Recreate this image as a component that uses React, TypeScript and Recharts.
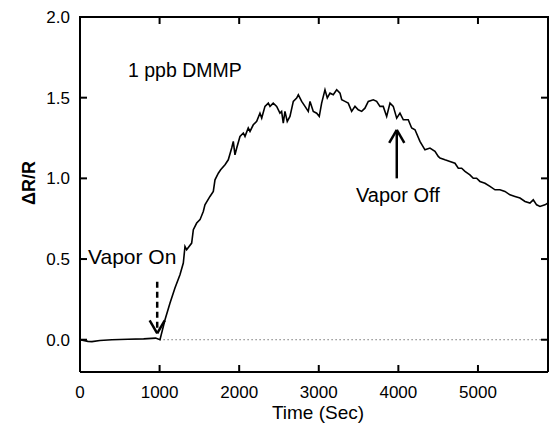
import { LineChart, Line, XAxis, YAxis, ReferenceLine } from 'recharts'

// time (s) and ΔR/R
const times = [
  0, 100, 150, 250, 400, 600, 800, 950, 1005, 1068, 1131, 1193, 1256, 1298, 1319, 1340, 1403, 1424,
  1466, 1508, 1549, 1570, 1633, 1675, 1696, 1738, 1767, 1822, 1863, 1906, 1926, 1947, 1969, 2010,
  2052, 2073, 2114, 2136, 2177, 2220, 2261, 2283, 2324, 2366, 2387, 2428, 2471, 2512, 2533, 2554,
  2575, 2604, 2638, 2680, 2722, 2743, 2785, 2827, 2868, 2890, 2931, 2974, 3006, 3036, 3078, 3107,
  3141, 3182, 3225, 3267, 3288, 3329, 3370, 3413, 3455, 3496, 3539, 3580, 3622, 3685, 3727, 3769,
  3810, 3853, 3895, 3936, 3979, 4020, 4062, 4124, 4167, 4209, 4271, 4334, 4397, 4460, 4501, 4523,
  4585, 4648, 4711, 4753, 4795, 4837, 4899, 4941, 4983, 5025, 5088, 5151, 5214, 5276, 5339, 5402,
  5465, 5528, 5591, 5653, 5695, 5737, 5779, 5842, 5880,
]
const response = [
  0.0, -0.01, -0.012, -0.005, 0.0, 0.003, 0.005, 0.01, 0.0, 0.124, 0.227, 0.32, 0.403, 0.475, 0.578,
  0.558, 0.599, 0.682, 0.723, 0.744, 0.795, 0.836, 0.888, 0.919, 0.991, 1.032, 1.053, 1.084, 1.115,
  1.188, 1.229, 1.146, 1.188, 1.26, 1.281, 1.26, 1.312, 1.291, 1.332, 1.353, 1.404, 1.374, 1.446,
  1.466, 1.446, 1.466, 1.446, 1.404, 1.415, 1.342, 1.415, 1.353, 1.384, 1.477, 1.498, 1.518, 1.477,
  1.446, 1.415, 1.477, 1.415, 1.404, 1.384, 1.466, 1.549, 1.498, 1.528, 1.518, 1.549, 1.528, 1.487,
  1.477, 1.466, 1.415, 1.446, 1.425, 1.415, 1.435, 1.477, 1.487, 1.477, 1.446, 1.446, 1.384, 1.466,
  1.446, 1.373, 1.404, 1.363, 1.363, 1.312, 1.301, 1.229, 1.177, 1.188, 1.167, 1.136, 1.126, 1.115,
  1.105, 1.094, 1.063, 1.063, 1.043, 1.022, 1.001, 1.001, 0.981, 0.97, 0.95, 0.929, 0.929, 0.919,
  0.898, 0.888, 0.878, 0.857, 0.847, 0.867, 0.836, 0.826, 0.836, 0.847,
]
const xTicks = [0, 1000, 2000, 3000, 4000, 5000]
const yTicks = [0, 0.5, 1, 1.5, 2]

const data = times.map((t, i) => ({ t, v: response[i] }))

const FONT = 'Liberation Sans, Arial, Helvetica, sans-serif'
const X_MAX = 5880
const Y_MIN = -0.2
const Y_MAX = 2

// plot box in pixels (follows from chart size / margins / axis sizes below)
const W = 549
const H = 423
const LEFT = 80
const TOP = 17
const RIGHT = W - 1
const BOTTOM = H - 51
const TICK = 7
const LW = 2

// same linear mapping as the axes (domain -> plot box), for the frame tick marks
const px = (t: number) => LEFT + (t / X_MAX) * (RIGHT - LEFT)
const py = (v: number) => BOTTOM - ((v - Y_MIN) / (Y_MAX - Y_MIN)) * (BOTTOM - TOP)

// annotation arrows, in data units
const onArrow = { t: 970, from: 0.36, to: 0.04 }
const offArrow = { t: 3980, from: 1.0, to: 1.3 }
const headW = 95
const headH = 0.08

// frame (top/right) and inward ticks, laid over the chart
function Frame() {
  return (
    <svg
      width={W}
      height={H}
      style={{ position: 'absolute', left: 0, top: 0, pointerEvents: 'none' }}
    >
      <line x1={LEFT - 1} y1={TOP} x2={RIGHT + 1} y2={TOP} stroke="#000" strokeWidth={LW} />
      <line x1={RIGHT} y1={TOP} x2={RIGHT} y2={BOTTOM} stroke="#000" strokeWidth={LW} />
      {xTicks.filter((t) => t > 0).map((t) => (
        <g key={`x${t}`}>
          <line x1={px(t)} y1={BOTTOM} x2={px(t)} y2={BOTTOM - TICK} stroke="#000" strokeWidth={LW} />
          <line x1={px(t)} y1={TOP} x2={px(t)} y2={TOP + TICK} stroke="#000" strokeWidth={LW} />
        </g>
      ))}
      {yTicks.map((v) => (
        <g key={`y${v}`}>
          <line x1={LEFT} y1={py(v)} x2={LEFT + TICK} y2={py(v)} stroke="#000" strokeWidth={LW} />
          <line x1={RIGHT} y1={py(v)} x2={RIGHT - TICK} y2={py(v)} stroke="#000" strokeWidth={LW} />
        </g>
      ))}
    </svg>
  )
}

export default function App() {
  const tickStyle = { fontSize: 17, fill: '#000', fontFamily: FONT }
  return (
    <div style={{ position: 'absolute', left: 0, top: 0, width: W, height: H }}>
      <LineChart width={W} height={H} data={data} margin={{ top: TOP, right: W - RIGHT, bottom: 0, left: 0 }}>
        <XAxis
          dataKey="t"
          type="number"
          domain={[0, X_MAX]}
          ticks={xTicks}
          height={H - BOTTOM}
          axisLine={{ stroke: '#000', strokeWidth: LW }}
          tickLine={false}
          tickSize={0}
          tickMargin={14}
          tick={tickStyle}
        />
        <YAxis
          type="number"
          domain={[Y_MIN, Y_MAX]}
          ticks={yTicks}
          width={LEFT}
          axisLine={{ stroke: '#000', strokeWidth: LW }}
          tickLine={false}
          tickSize={0}
          tickMargin={10}
          tick={tickStyle}
          tickFormatter={(v) => v.toFixed(1)}
        />
        <ReferenceLine
          segment={[{ x: 1000, y: 0 }, { x: X_MAX, y: 0 }]}
          stroke="#333"
          strokeWidth={1}
          strokeDasharray="1 3"
        />
        {/* Vapor On: dashed arrow pointing down */}
        <ReferenceLine
          segment={[{ x: onArrow.t, y: onArrow.from }, { x: onArrow.t, y: onArrow.to + 0.02 }]}
          stroke="#000"
          strokeWidth={2.5}
          strokeDasharray="6 4"
        />
        <ReferenceLine
          segment={[{ x: onArrow.t - headW, y: onArrow.to + headH }, { x: onArrow.t, y: onArrow.to }]}
          stroke="#000"
          strokeWidth={2.5}
        />
        <ReferenceLine
          segment={[{ x: onArrow.t + headW, y: onArrow.to + headH }, { x: onArrow.t, y: onArrow.to }]}
          stroke="#000"
          strokeWidth={2.5}
        />
        {/* Vapor Off: solid arrow pointing up */}
        <ReferenceLine
          segment={[{ x: offArrow.t, y: offArrow.from }, { x: offArrow.t, y: offArrow.to - 0.01 }]}
          stroke="#000"
          strokeWidth={2.5}
        />
        <ReferenceLine
          segment={[{ x: offArrow.t - headW, y: offArrow.to - headH }, { x: offArrow.t, y: offArrow.to }]}
          stroke="#000"
          strokeWidth={2.5}
        />
        <ReferenceLine
          segment={[{ x: offArrow.t + headW, y: offArrow.to - headH }, { x: offArrow.t, y: offArrow.to }]}
          stroke="#000"
          strokeWidth={2.5}
        />
        <Line
          type="linear"
          dataKey="v"
          stroke="#000"
          strokeWidth={1.6}
          dot={false}
          isAnimationActive={false}
        />
        <text x={128} y={77} fontSize={19.5} fontFamily={FONT} fill="#000">1 ppb DMMP</text>
        <text x={88} y={264} fontSize={21} fontFamily={FONT} fill="#000">Vapor On</text>
        <text x={356} y={202} fontSize={20} fontFamily={FONT} fill="#000">Vapor Off</text>
        <text x={318} y={419} fontSize={19} fontFamily={FONT} fill="#000" textAnchor="middle">Time (Sec)</text>
        <text
          x={30}
          y={183}
          fontSize={18}
          fontWeight="bold"
          fontFamily={FONT}
          fill="#000"
          textAnchor="middle"
          transform="rotate(-90 30 183)"
          dominantBaseline="middle"
        >
          ΔR/R
        </text>
      </LineChart>
      <Frame />
    </div>
  )
}
